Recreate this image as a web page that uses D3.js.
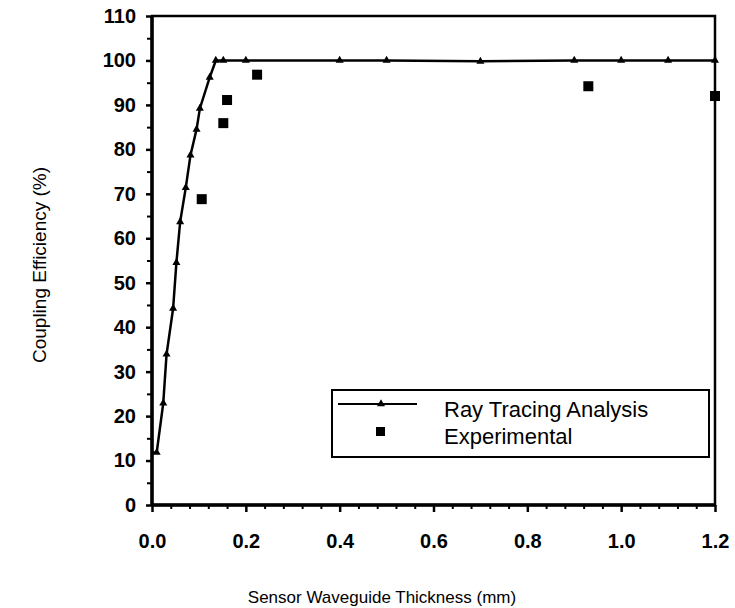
<!DOCTYPE html>
<html>
<head>
<meta charset="utf-8">
<script src="https://cdnjs.cloudflare.com/ajax/libs/d3/7.8.5/d3.min.js"></script>
<style>
  body { margin: 0; background: #fff; }
  svg { display: block; font-family: "Liberation Sans", Arial, sans-serif; }
</style>
</head>
<body>
<div id="chart"></div>
<script>
// Ray tracing analysis (line with small markers)
var rayX = [0.01, 0.024, 0.031, 0.045, 0.052, 0.06, 0.072, 0.082, 0.095, 0.102, 0.123, 0.136, 0.152, 0.2, 0.4, 0.5, 0.7, 0.9, 1.0, 1.1, 1.2];
var rayY = [11.8, 22.9, 33.9, 44.2, 54.5, 63.7, 71.4, 78.7, 84.5, 89.2, 96.2, 100, 100, 100, 100, 100, 99.8, 100, 100, 100, 100];

// Experimental points (squares)
var expX = [0.106, 0.152, 0.16, 0.224, 0.93, 1.2];
var expY = [68.8, 85.9, 91.1, 96.8, 94.2, 92];

var xTicks = [0, 0.2, 0.4, 0.6, 0.8, 1.0, 1.2];
var yTicks = [0, 10, 20, 30, 40, 50, 60, 70, 80, 90, 100, 110];
var legendLabels = ["Ray Tracing Analysis", "Experimental"];

var W = 735, H = 608;
var margin = { top: 16, right: 20, bottom: 103, left: 152 };
var width = W - margin.left - margin.right,
    height = H - margin.top - margin.bottom;

var svg = d3.select("#chart").append("svg")
    .attr("width", W)
    .attr("height", H);

var g = svg.append("g")
    .attr("transform", "translate(" + margin.left + "," + margin.top + ")");

var x = d3.scaleLinear().domain([0, 1.2]).range([0, width]);
var y = d3.scaleLinear().domain([0, 110]).range([height, 0]);

// minor ticks
var xMinor = d3.range(0, 1.2001, 0.04).filter(function(v) { return Math.abs(v / 0.2 - Math.round(v / 0.2)) > 0.01; });
var yMinor = d3.range(5, 110, 10);

g.append("g")
    .attr("transform", "translate(0," + height + ")")
    .call(d3.axisBottom(x).tickValues(xMinor).tickSize(4).tickFormat(""))
    .call(function(s) { s.select(".domain").remove(); s.selectAll("line").attr("stroke-width", 2); });

g.append("g")
    .call(d3.axisLeft(y).tickValues(yMinor).tickSize(5).tickFormat(""))
    .call(function(s) { s.select(".domain").remove(); s.selectAll("line").attr("stroke-width", 2); });

// major axes
var xAxis = g.append("g")
    .attr("transform", "translate(0," + height + ")")
    .call(d3.axisBottom(x).tickValues(xTicks).tickSize(7).tickPadding(22).tickFormat(d3.format(".1f")));
xAxis.select(".domain").remove();
xAxis.selectAll("line").attr("stroke-width", 2.5);
xAxis.selectAll("text")
    .style("font-size", "20px")
    .style("font-weight", "bold")
    .attr("fill", "#000");

var yAxis = g.append("g")
    .call(d3.axisLeft(y).tickValues(yTicks).tickSize(6).tickPadding(10).tickFormat(d3.format("d")));
yAxis.select(".domain").remove();
yAxis.selectAll("line").attr("stroke-width", 2.5);
yAxis.selectAll("text")
    .style("font-size", "20px")
    .style("font-weight", "bold")
    .attr("fill", "#000");

// frame
g.append("rect")
    .attr("x", 0).attr("y", 0)
    .attr("width", width).attr("height", height)
    .attr("fill", "none")
    .attr("stroke", "#000")
    .attr("stroke-width", 2.5);
g.append("line").attr("x1", 0).attr("x2", 0).attr("y1", 0).attr("y2", height)
    .attr("stroke", "#000").attr("stroke-width", 3.5);
g.append("line").attr("x1", 0).attr("x2", width).attr("y1", height).attr("y2", height)
    .attr("stroke", "#000").attr("stroke-width", 3.5);

// ray tracing line
var rayData = rayX.map(function(v, i) { return { x: v, y: rayY[i] }; });
var line = d3.line()
    .x(function(d) { return x(d.x); })
    .y(function(d) { return y(d.y); });

g.append("path")
    .datum([{ x: 0, y: 11.8 }].concat(rayData))
    .attr("d", line)
    .attr("fill", "none")
    .attr("stroke", "#000")
    .attr("stroke-width", 2.5);

var tri = d3.symbol().type(d3.symbolTriangle).size(28);
g.selectAll(".ray")
    .data(rayData)
    .enter()
    .append("path")
    .attr("class", "ray")
    .attr("transform", function(d) { return "translate(" + x(d.x) + "," + y(d.y) + ")"; })
    .attr("d", tri)
    .attr("fill", "#000");

// experimental squares
var sq = 10;
g.selectAll(".exp")
    .data(expX.map(function(v, i) { return { x: v, y: expY[i] }; }))
    .enter()
    .append("rect")
    .attr("class", "exp")
    .attr("x", function(d) { return x(d.x) - sq / 2; })
    .attr("y", function(d) { return y(d.y) - sq / 2; })
    .attr("width", sq)
    .attr("height", sq)
    .attr("fill", "#000");

// legend
var lg = svg.append("g").attr("transform", "translate(332,390)");
lg.append("rect")
    .attr("width", 377).attr("height", 67)
    .attr("fill", "#fff")
    .attr("stroke", "#000")
    .attr("stroke-width", 2);
lg.append("line")
    .attr("x1", 6).attr("x2", 85).attr("y1", 14).attr("y2", 14)
    .attr("stroke", "#000").attr("stroke-width", 2);
lg.append("path")
    .attr("transform", "translate(49,14)")
    .attr("d", tri)
    .attr("fill", "#000");
lg.append("rect")
    .attr("x", 44).attr("y", 37).attr("width", 9).attr("height", 9)
    .attr("fill", "#000");
lg.selectAll(".lt")
    .data(legendLabels)
    .enter()
    .append("text")
    .attr("class", "lt")
    .attr("x", 112)
    .attr("y", function(d, i) { return 27 + i * 27; })
    .style("font-size", "22px")
    .attr("fill", "#000")
    .text(function(d) { return d; });

// axis titles
svg.append("text")
    .attr("x", 382)
    .attr("y", 603)
    .attr("text-anchor", "middle")
    .style("font-size", "17px")
    .text("Sensor Waveguide Thickness (mm)");

svg.append("text")
    .attr("transform", "translate(46,265) rotate(-90)")
    .attr("text-anchor", "middle")
    .style("font-size", "19px")
    .text("Coupling Efficiency (%)");
</script>
</body>
</html>
